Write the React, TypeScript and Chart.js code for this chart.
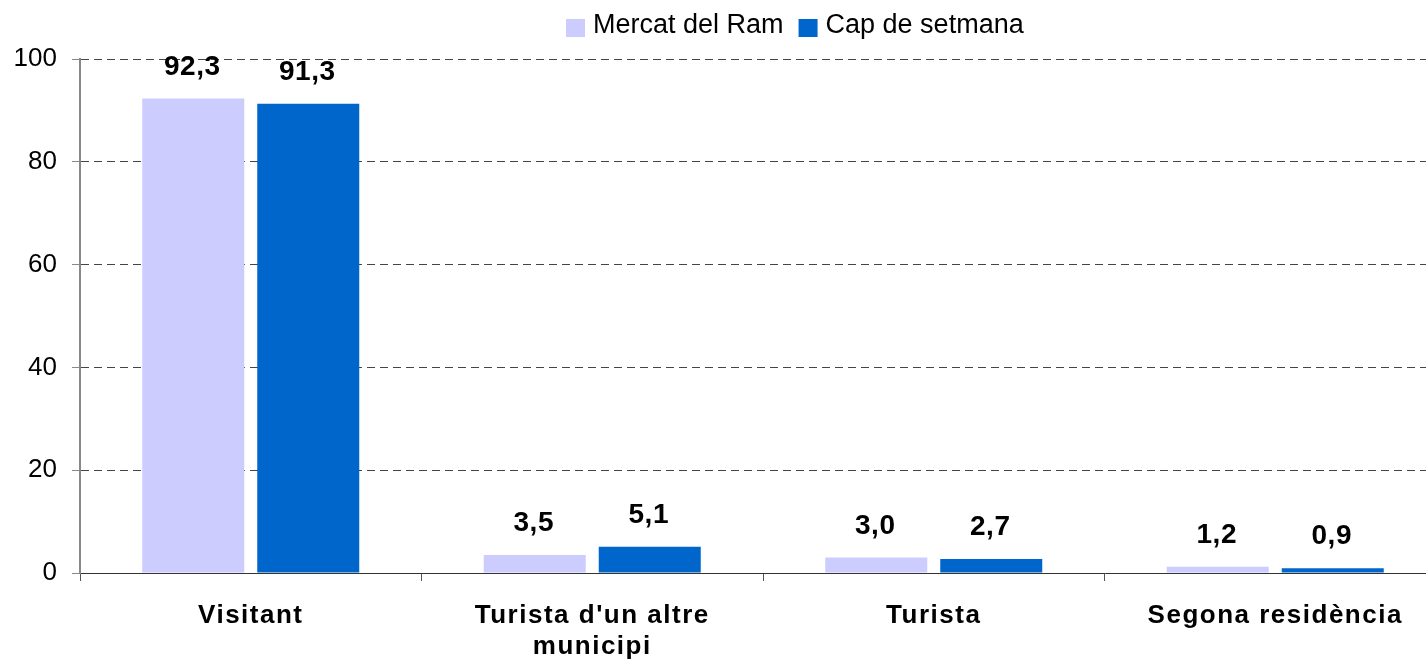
import { useEffect, useRef } from "react";
import { Chart, registerables } from "chart.js";

Chart.register(...registerables);

const categories: string[][] = [
  ["Visitant"],
  ["Turista d'un altre", "municipi"],
  ["Turista"],
  ["Segona residència"],
];
const seriesNames = ["Mercat del Ram", "Cap de setmana"];
const mercatDelRam = [92.3, 3.5, 3.0, 1.2];
const capDeSetmana = [91.3, 5.1, 2.7, 0.9];
const seriesColors = ["#CCCCFF", "#0066CC"];
const yMin = 0;
const yMax = 100;
const yStep = 20;

const FONT = '"Liberation Sans", Arial, Helvetica, sans-serif';

export default function App() {
  const ref = useRef<HTMLCanvasElement>(null);

  useEffect(() => {
    document.body.style.overflow = "hidden";
    const canvas = ref.current!;

    const customPlugin = {
      id: "customDraw",
      afterDatasetsDraw(chart: any) {
        const ctx = chart.ctx as CanvasRenderingContext2D;
        ctx.save();
        ctx.font = `bold 28px ${FONT}`;
        ctx.fillStyle = "#000";
        ctx.textAlign = "center";
        ctx.textBaseline = "alphabetic";
        (ctx as any).letterSpacing = "0.5px";
        chart.data.datasets.forEach((ds: any, di: number) => {
          const meta = chart.getDatasetMeta(di);
          meta.data.forEach((el: any, i: number) => {
            const v = ds.data[i] as number;
            ctx.fillText(v.toFixed(1).replace(".", ","), el.x - 1, el.y - 24);
          });
        });
        ctx.restore();
      },
      afterDraw(chart: any) {
        const ctx = chart.ctx as CanvasRenderingContext2D;
        const xScale = chart.scales.x;
        // category labels
        ctx.save();
        ctx.font = `bold 26px ${FONT}`;
        ctx.fillStyle = "#000";
        ctx.textAlign = "center";
        ctx.textBaseline = "alphabetic";
        (ctx as any).letterSpacing = "1.5px";
        categories.forEach((lines, i) => {
          const cx = xScale.getPixelForValue(i);
          lines.forEach((line, li) => {
            ctx.fillText(line, cx, 623 + li * 31);
          });
        });
        ctx.restore();

        // legend
        ctx.save();
        ctx.font = `27px ${FONT}`;
        ctx.fillStyle = "#000";
        ctx.textAlign = "left";
        ctx.textBaseline = "alphabetic";
        let x = 566;
        seriesNames.forEach((name, i) => {
          ctx.fillStyle = seriesColors[i];
          ctx.fillRect(x, 19, 19, 18);
          ctx.fillStyle = "#000";
          ctx.fillText(name, x + 27, 33);
          x += 27 + ctx.measureText(name).width + 15;
        });
        ctx.restore();
      },
    };

    const chart = new Chart(canvas, {
      type: "bar",
      data: {
        labels: categories,
        datasets: [
          {
            label: seriesNames[0],
            data: mercatDelRam,
            backgroundColor: seriesColors[0],
            borderWidth: 0,
            categoryPercentage: 0.6735,
            barPercentage: 0.887,
          },
          {
            label: seriesNames[1],
            data: capDeSetmana,
            backgroundColor: seriesColors[1],
            borderWidth: 0,
            categoryPercentage: 0.6735,
            barPercentage: 0.887,
          },
        ],
      },
      options: {
        animation: false,
        responsive: false,
        maintainAspectRatio: false,
        layout: { padding: { top: 59, left: 0, right: 0, bottom: 0 } },
        plugins: {
          legend: { display: false },
          tooltip: { enabled: false },
          title: { display: false },
        },
        scales: {
          x: {
            offset: true,
            grid: {
              display: true,
              offset: true,
              drawOnChartArea: false,
              drawTicks: true,
              tickLength: 8,
              color: "#555",
              lineWidth: 1,
            },
            border: { display: true, color: "#333", width: 1 },
            ticks: { display: false },
            afterFit(scale: any) {
              scale.height = 96;
            },
          },
          y: {
            min: yMin,
            max: yMax,
            ticks: {
              stepSize: yStep,
              padding: 15,
              color: "#000",
              font: { family: FONT, size: 26 },
            },
            grid: {
              display: true,
              drawTicks: true,
              tickLength: 8,
              color: "#444",
              lineWidth: 1,
              tickColor: "#888",
            },
            border: { display: true, color: "#888", width: 2, dash: [8, 5] },
            afterFit(scale: any) {
              scale.width = 80;
            },
          },
        },
      },
      plugins: [customPlugin],
    });

    return () => chart.destroy();
  }, []);

  return (
    <div style={{ position: "fixed", left: 0, top: 0 }}>
      <canvas ref={ref} width={1446} height={669} style={{ display: "block" }} />
    </div>
  );
}
